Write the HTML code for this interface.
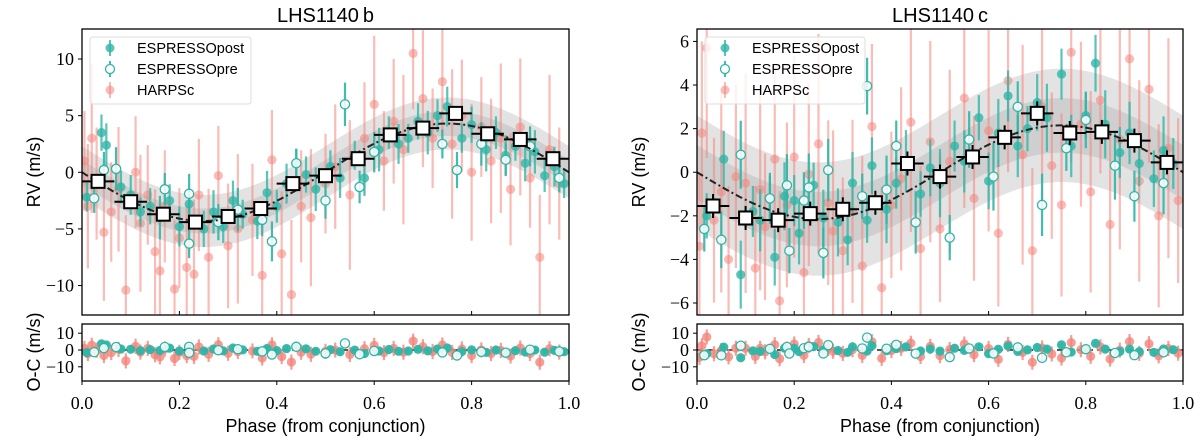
<!DOCTYPE html>
<html><head><meta charset="utf-8">
<style>
html,body{margin:0;padding:0;background:#fff;}
svg{display:block;font-family:"Liberation Serif",serif;}
.sans{font-family:"Liberation Sans",sans-serif;}
</style></head>
<body>
<svg id="chart" width="1200" height="441" xmlns="http://www.w3.org/2000/svg"></svg>
<script>
// ---------- data ----------
const xTicks = [0.0, 0.2, 0.4, 0.6, 0.8, 1.0];
const xTickLabels = ["0.0", "0.2", "0.4", "0.6", "0.8", "1.0"];
const resTicks = [10, 0, -10];
const resTickLabels = ["10", "0", "\u221210"];

// Panel b
const bYTicks = [10, 5, 0, -5, -10];
const bYTickLabels = ["10", "5", "0", "\u22125", "\u221210"];
const bK = 4.3;
const bBandInner = 1.1;
const bBandOuter = 2.3;
const bBinPhase = [0.033,0.1,0.167,0.233,0.3,0.367,0.433,0.5,0.567,0.633,0.7,0.767,0.833,0.9,0.967];
const bBinRV = [-0.8,-2.6,-3.7,-4.4,-3.9,-3.2,-1.0,-0.3,1.2,3.3,3.9,5.2,3.4,2.9,1.2];
const bHarpsPhase = [0.005,0.012,0.02,0.03,0.045,0.06,0.075,0.09,0.11,0.12,0.135,0.15,0.16,0.17,0.19,0.2,0.215,0.23,0.24,0.26,0.28,0.3,0.32,0.35,0.37,0.39,0.41,0.43,0.45,0.47,0.5,0.52,0.55,0.58,0.6,0.62,0.64,0.66,0.68,0.7,0.72,0.74,0.76,0.78,0.8,0.82,0.84,0.86,0.88,0.9,0.92,0.94,0.96,0.98];
const bHarpsRV = [1,-3,3,-1,-5.3,-3.5,-1.5,-10.4,0,-4.5,-2,-7,-8.7,-3,-10.3,-5.8,-8.4,-9,-2,-7.5,-0.3,-6.5,-5,-4.2,-9.1,1.1,-7.2,-10.8,-3,-4,-1,0.5,-2,3,6,1,4.5,2,10.5,6.5,3,8,2.5,5,0,4,1,3,-1.5,4,-0.5,-7.5,2,-1];
const bPostPhase = [0.01,0.04,0.05,0.08,0.1,0.12,0.14,0.16,0.18,0.2,0.22,0.25,0.27,0.29,0.31,0.33,0.36,0.38,0.4,0.42,0.44,0.46,0.48,0.51,0.53,0.56,0.58,0.61,0.63,0.65,0.67,0.69,0.71,0.73,0.75,0.78,0.8,0.83,0.85,0.87,0.89,0.91,0.93,0.95,0.97,0.99];
const bPostRV = [-2.2,3.5,2.4,-1.3,-2,-3.5,-3,-4,-2.5,-4.8,-2.8,-5,-3.5,-4.8,-2.5,-3.7,-4.3,-1.8,-3,-1,0.8,-0.2,-1.5,0.5,-0.5,1.5,-0.5,2,3.5,2.5,3,4.5,3.5,5,5.8,3,4.2,2,3.5,1.5,2.3,0.8,1.8,-0.3,0.5,-1];
const bPrePhase = [0.025,0.045,0.07,0.17,0.22,0.22,0.28,0.32,0.37,0.39,0.44,0.5,0.54,0.57,0.6,0.74,0.77,0.82,0.87,0.92,0.98];
const bPreRV = [-2.3,0.2,0.3,-1.5,-1.9,-6.3,-4.4,-3.3,-4.2,-6.1,0.8,-2.5,6,-1.3,1.8,2.5,0.2,2.5,1.1,2.3,-0.5];

// Panel c
const cYTicks = [6, 4, 2, 0, -2, -4, -6];
const cYTickLabels = ["6", "4", "2", "0", "\u22122", "\u22124", "\u22126"];
const cK = 2.15;
const cBandInner = 1.25;
const cBandOuter = 2.6;
const cBinPhase = [0.033,0.1,0.167,0.233,0.3,0.367,0.433,0.5,0.567,0.633,0.7,0.767,0.833,0.9,0.967];
const cBinRV = [-1.55,-2.1,-2.2,-1.9,-1.7,-1.4,0.4,-0.2,0.7,1.6,2.7,1.8,1.85,1.45,0.45];
const cHarpsPhase = [0.005,0.01,0.02,0.035,0.05,0.065,0.08,0.1,0.12,0.13,0.14,0.16,0.17,0.185,0.2,0.22,0.23,0.25,0.27,0.28,0.3,0.32,0.34,0.36,0.38,0.4,0.42,0.44,0.46,0.48,0.5,0.52,0.55,0.57,0.6,0.62,0.64,0.67,0.69,0.71,0.73,0.75,0.77,0.79,0.81,0.83,0.85,0.87,0.89,0.91,0.93,0.95,0.97,0.99];
const cHarpsRV = [-3.4,1.8,5.7,-2.2,-0.9,-4,-0.2,-0.5,-4.4,-0.8,-2.5,0.6,-5.9,-1.5,0.7,-4.6,-0.1,1.3,-1.4,-2.7,-3.6,-1.8,-4.3,2.1,-5.3,-1.5,-0.3,2.3,-3.5,1.4,-2.6,0.5,3.4,-1.2,1.9,-2.8,4.2,0.8,-3.6,3,0.3,-1.5,5.5,2.2,-0.9,3.3,-2.4,1.5,5.2,-0.4,3.8,-2,1.1,-1.3];
const cPostPhase = [0.02,0.055,0.09,0.115,0.13,0.15,0.16,0.18,0.2,0.21,0.24,0.26,0.29,0.31,0.32,0.35,0.36,0.39,0.41,0.43,0.46,0.48,0.5,0.53,0.55,0.58,0.6,0.62,0.64,0.66,0.68,0.7,0.72,0.75,0.77,0.8,0.82,0.84,0.87,0.89,0.91,0.94,0.96,0.98];
const cPostRV = [-2,0.6,-4.7,-1.8,-2.2,-1.2,-3.9,-1.1,-1.3,-2.8,-0.6,-2.1,-2.3,-3.1,-0.5,-2.2,0.3,-1.7,-0.5,0.5,-1,0.2,-0.5,1.2,0.5,2.5,-0.4,1.8,3.5,1.2,2,3.2,2.5,4.5,1.2,2.6,5,2.2,0.9,1.8,0.4,-0.3,1,0.4];
const cPrePhase = [0.015,0.05,0.09,0.15,0.185,0.19,0.22,0.23,0.26,0.27,0.34,0.35,0.39,0.41,0.45,0.52,0.56,0.61,0.66,0.71,0.76,0.8,0.86,0.9,0.96];
const cPreRV = [-2.6,-3.1,0.8,-1.2,-0.6,-3.6,-1.3,-0.7,-3.7,0.1,-1.1,3.95,-0.8,1.2,-2.3,-3,1.5,-0.2,3,-1.5,1.1,2.4,0.3,-1.1,-0.5];

// ---------- drawing ----------
const NS = "http://www.w3.org/2000/svg";
const svg = document.getElementById("chart");
const TEAL = "#2fb5a6", SALMON = "#f4857b";
function mk(tag, attrs, parent) {
  const e = document.createElementNS(NS, tag);
  for (const k in attrs) e.setAttribute(k, attrs[k]);
  (parent || svg).appendChild(e);
  return e;
}
function model(K, p) { return -K * Math.sin(2 * Math.PI * p); }

function panel(o) {
  const g = mk("g", {});
  
  
  const L = o.left, R = o.right, T = 29, B = 315, RT = 324, RB = 381;
  const X = p => L + (R - L) * p;
  const Y = v => T + (o.yMax - v) / (o.yMax - o.yMin) * (B - T);
  const Yr = v => 350 - v * 1.68;
  const clipId = "clip-" + o.name;
  const cp = mk("clipPath", { id: clipId }, g);
  mk("rect", { x: L, y: T, width: R - L, height: B - T }, cp);
  const cpr = mk("clipPath", { id: clipId + "r" }, g);
  mk("rect", { x: L, y: RT, width: R - L, height: RB - RT }, cpr);
  const pg = mk("g", { "clip-path": "url(#" + clipId + ")" }, g);
  function band(w, col, nm) {
    let up = [], dn = [];
    for (let i = 0; i <= 100; i++) { const p = i / 100; up.push(X(p) + "," + Y(model(o.K, p) + w)); dn.unshift(X(p) + "," + Y(model(o.K, p) - w)); }
    const b = mk("polygon", { points: up.concat(dn).join(" "), fill: col }, pg);
    
    
  }
  band(o.bo, "#e3e3e3", "model-band-outer");
  band(o.bi, "#cfcfcf", "model-band-inner");
  function pts(ph, rv, err, col, open, alpha, nm) {
    for (let i = 0; i < ph.length; i++) {
      const x = X(ph[i]), y = Y(rv[i]);
      const e = (Y(0) - Y(err)) * (0.8 + 0.4 * ((i * 7) % 5) / 4);
      const ln = mk("line", { x1: x, x2: x, y1: y - e, y2: y + e, stroke: col, "stroke-width": 2.2, "stroke-opacity": alpha }, pg);
      
      
      const c = mk("circle", { cx: x, cy: y, r: 4.6, fill: open ? "#fff" : col, "fill-opacity": open ? 0.85 : alpha, stroke: col, "stroke-width": open ? 1.3 : 0 }, pg);
      
      
    }
  }
  pts(o.hP, o.hR, o.hE, SALMON, false, 0.55, "harps");
  pts(o.pP, o.pR, o.pE, TEAL, false, 0.8, "espresso-post");
  pts(o.qP, o.qR, o.pE, TEAL, true, 0.9, "espresso-pre");
  let d = "";
  for (let i = 0; i <= 200; i++) { const p = i / 200; d += (i ? "L" : "M") + X(p) + " " + Y(model(o.K, p)); }
  const ml = mk("path", { d: d, fill: "none", stroke: "#222", "stroke-width": 2, "stroke-dasharray": "7,3,2,3" }, pg);
  
  
  for (let i = 0; i < o.bP.length; i++) {
    const x = X(o.bP[i]), y = Y(o.bR[i]), hw = (R - L) / 30, ey = o.bE * (Y(0) - Y(1));
    mk("line", { x1: x - hw, x2: x + hw, y1: y, y2: y, stroke: "#000", "stroke-width": 2 }, pg);
    mk("line", { x1: x, x2: x, y1: y - ey, y2: y + ey, stroke: "#000", "stroke-width": 2 }, pg);
    const s = mk("rect", { x: x - 6.5, y: y - 6.5, width: 13, height: 13, fill: "#fff", stroke: "#000", "stroke-width": 2 }, pg);
    
    
  }
  const rg = mk("g", { "clip-path": "url(#" + clipId + "r)" }, g);
  mk("line", { x1: L, x2: R, y1: 350, y2: 350, stroke: "#222", "stroke-width": 1.5, "stroke-dasharray": "6,4" }, rg);
  function rpts(ph, rv, err, col, open, alpha, nm) {
    for (let i = 0; i < ph.length; i++) {
      let r = (rv[i] - model(o.K, ph[i])) * o.rs;
      const x = X(ph[i]), y = Yr(r), e = err * 1.68;
      const ln = mk("line", { x1: x, x2: x, y1: y - e, y2: y + e, stroke: col, "stroke-width": 2.2, "stroke-opacity": alpha }, rg);
      
      
      const c = mk("circle", { cx: x, cy: y, r: 4.6, fill: open ? "#fff" : col, "fill-opacity": open ? 0.85 : alpha, stroke: col, "stroke-width": open ? 1.3 : 0 }, rg);
      
      
    }
  }
  rpts(o.hP, o.hR, 4.5, SALMON, false, 0.8, "harps");
  rpts(o.pP, o.pR, 1.8, TEAL, false, 0.95, "espresso-post");
  rpts(o.qP, o.qR, 1.8, TEAL, true, 0.95, "espresso-pre");
  mk("rect", { x: L, y: T, width: R - L, height: B - T, fill: "none", stroke: "#000", "stroke-width": 1.3 }, g);
  mk("rect", { x: L, y: RT, width: R - L, height: RB - RT, fill: "none", stroke: "#000", "stroke-width": 1.3 }, g);
  for (let i = 0; i < xTicks.length; i++) {
    const x = X(xTicks[i]);
    mk("line", { x1: x, x2: x, y1: B, y2: B - 4, stroke: "#000", "stroke-width": 1 }, g);
    mk("line", { x1: x, x2: x, y1: RB, y2: RB + 4, stroke: "#000", "stroke-width": 1 }, g);
    const t = mk("text", { x: x, y: 409, "text-anchor": "middle", "font-size": 18 }, g);
    t.textContent = xTickLabels[i];
    
    
  }
  for (let i = 0; i < o.yT.length; i++) {
    const y = Y(o.yT[i]);
    mk("line", { x1: L, x2: L - 4, y1: y, y2: y, stroke: "#000", "stroke-width": 1 }, g);
    const t = mk("text", { x: L - 8, y: y + 6, "text-anchor": "end", "font-size": 18 }, g);
    t.textContent = o.yL[i];
    
    
  }
  for (let i = 0; i < resTicks.length; i++) {
    const y = Yr(resTicks[i]);
    mk("line", { x1: L, x2: L - 4, y1: y, y2: y, stroke: "#000", "stroke-width": 1 }, g);
    const t = mk("text", { x: L - 8, y: y + 6, "text-anchor": "end", "font-size": 18 }, g);
    t.textContent = resTickLabels[i];
    
    
  }
  const tt = mk("text", { x: (L + R) / 2, y: 22, "text-anchor": "middle", "font-size": 20, class: "sans" }, g);
  tt.textContent = o.title;
  
  
  const xl = mk("text", { x: (L + R) / 2, y: 432, "text-anchor": "middle", "font-size": 18, class: "sans" }, g);
  xl.textContent = "Phase (from conjunction)";
  
  
  const yl = mk("text", { x: 0, y: 0, "text-anchor": "middle", "font-size": 18, class: "sans", transform: "translate(" + (o.ylx) + ",172) rotate(-90)" }, g);
  yl.textContent = "RV (m/s)";
  
  
  const rl = mk("text", { x: 0, y: 0, "text-anchor": "middle", "font-size": 18, class: "sans", transform: "translate(" + (o.ylx) + ",352) rotate(-90)" }, g);
  rl.textContent = "O-C (m/s)";
  
  
  const lg = mk("g", {}, g);
  
  
  mk("rect", { x: L + 8, y: 37, width: o.lw, height: 67, rx: 3, fill: "#fff", "fill-opacity": 0.8, stroke: "#ddd" }, lg);
  const ents = [["ESPRESSOpost", TEAL, false, 0.8], ["ESPRESSOpre", TEAL, true, 0.9], ["HARPSc", SALMON, false, 0.55]];
  ents.forEach((en, i) => {
    const y = 48 + i * 21, mx = L + 28;
    mk("line", { x1: mx, x2: mx, y1: y - 8, y2: y + 8, stroke: en[1], "stroke-width": 2, "stroke-opacity": en[3] }, lg);
    mk("circle", { cx: mx, cy: y, r: 4.5, fill: en[2] ? "#fff" : en[1], "fill-opacity": en[2] ? 1 : en[3], stroke: en[1], "stroke-width": en[2] ? 1.3 : 0 }, lg);
    const t = mk("text", { x: L + 55, y: y + 5, "font-size": 14.5, class: "sans" }, lg);
    t.textContent = en[0];
    
    
  });
}

panel({ name: "b", title: "LHS1140\u2009b", left: 82, right: 569, yMax: 12.65, yMin: -12.6,
  yT: bYTicks, yL: bYTickLabels, K: bK, bi: bBandInner, bo: bBandOuter, bP: bBinPhase, bR: bBinRV, bE: 0.6,
  hP: bHarpsPhase, hR: bHarpsRV, hE: 5.5, pP: bPostPhase, pR: bPostRV, pE: 1.6, qP: bPrePhase, qR: bPreRV,
  rs: 0.8, ylx: 40, lw: 161 });
panel({ name: "c", title: "LHS1140\u2009c", left: 697, right: 1183, yMax: 6.57, yMin: -6.55,
  yT: cYTicks, yL: cYTickLabels, K: cK, bi: cBandInner, bo: cBandOuter, bP: cBinPhase, bR: cBinRV, bE: 0.55,
  hP: cHarpsPhase, hR: cHarpsRV, hE: 4.2, pP: cPostPhase, pR: cPostRV, pE: 1.3, qP: cPrePhase, qR: cPreRV,
  rs: 1.3, ylx: 645, lw: 160 });
</script>
</body></html>
